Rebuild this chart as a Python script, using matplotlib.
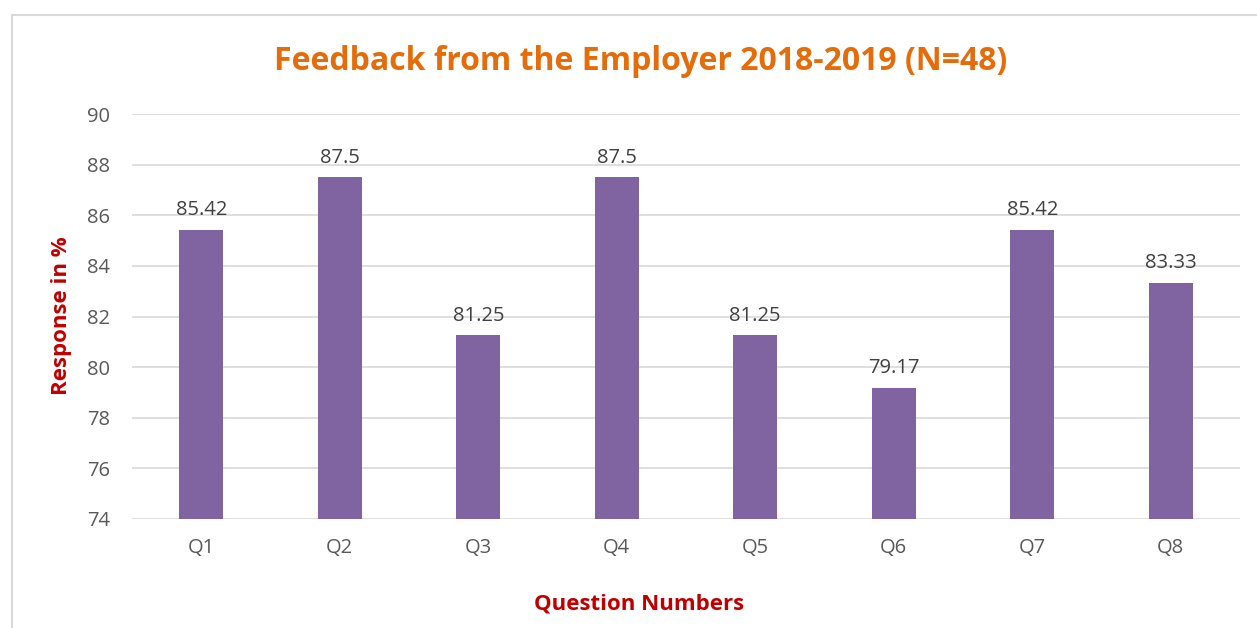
import matplotlib.pyplot as plt
from matplotlib.patches import Rectangle

# chart data
questions = ['Q1', 'Q2', 'Q3', 'Q4', 'Q5', 'Q6', 'Q7', 'Q8']
responses = [85.42, 87.5, 81.25, 87.5, 81.25, 79.17, 85.42, 83.33]
value_labels = ['85.42', '87.5', '81.25', '87.5', '81.25', '79.17', '85.42', '83.33']
y_ticks = [74, 76, 78, 80, 82, 84, 86, 88, 90]

plt.rcParams['font.family'] = ['Open Sans', 'DejaVu Sans']

fig = plt.figure(figsize=(12.57, 6.28), dpi=100)
W, H = 1257, 628

# outer chart border (runs off the right and bottom edge)
fig.patches.append(Rectangle((12 / W, -0.1), 1.2, 1 - 15 / H + 0.1,
                             transform=fig.transFigure, fill=False,
                             edgecolor='#D9D9D9', linewidth=1.5))

ax = fig.add_axes([132 / W, 1 - 519 / H, (1240 - 132) / W, (519 - 114) / H])

x = range(len(questions))
ax.bar(x, responses, width=0.32, color='#8064A2', zorder=3)

for i, (v, lab) in enumerate(zip(responses, value_labels)):
    ax.annotate(lab, (i, v), xytext=(0, 7), textcoords='offset points',
                ha='center', va='bottom', fontsize=14.5, color='#404040')

ax.set_xlim(-0.5, len(questions) - 0.5)
ax.set_ylim(74, 90)
ax.set_yticks(y_ticks)
ax.set_xticks(list(x))
ax.set_xticklabels(questions)
ax.tick_params(axis='both', length=0, labelsize=14.5, colors='#595959')
ax.tick_params(axis='y', pad=16)
ax.tick_params(axis='x', pad=14)
ax.grid(axis='y', color='#D9D9D9', linewidth=1.2, zorder=0)
for s in ax.spines.values():
    s.set_visible(False)

fig.text(641 / W, 1 - 61 / H, 'Feedback from the Employer 2018-2019 (N=48)',
         ha='center', va='center', fontsize=23, fontweight='bold', color='#E46C0A')
fig.text(62 / W, 1 - 316 / H, 'Response in %', rotation=90,
         ha='center', va='center', fontsize=16, fontweight='bold', color='#C00000')
fig.text(639 / W, 1 - 604 / H, 'Question Numbers',
         ha='center', va='center', fontsize=16, fontweight='bold', color='#C00000')

fig.savefig('out.png', dpi=100, facecolor='white')
